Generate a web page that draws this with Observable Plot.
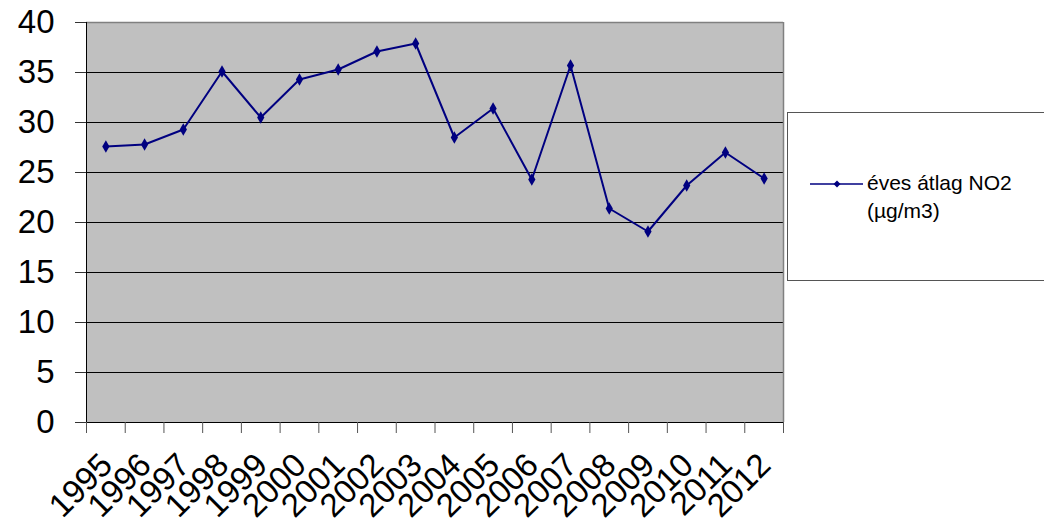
<!DOCTYPE html>
<html>
<head>
<meta charset="utf-8">
<script src="https://cdn.jsdelivr.net/npm/d3@7"></script>
<script src="https://cdn.jsdelivr.net/npm/@observablehq/plot@0.6"></script>
<style>
  html, body { margin: 0; padding: 0; background: #fff; overflow: hidden; }
  #wrap { position: relative; width: 1044px; height: 526px; }
  #legend { position: absolute; left: 787px; top: 112px; width: 280px; height: 169px;
    border: 1px solid #555; box-sizing: border-box; background: #fff;
    font-family: "Liberation Sans", Arial, sans-serif; font-size: 21px; color: #000; }
  #legend svg { position: absolute; left: 22px; top: 66px; }
  #legend .txt { position: absolute; left: 79px; top: 56px; line-height: 28px; }
</style>
</head>
<body>
<div id="wrap">
  <div id="chart"></div>
  <div id="legend">
    <svg width="54" height="10"><line x1="0" y1="5" x2="53" y2="5" stroke="#000080" stroke-width="1.5"/><path d="M27,1.5L30.5,5L27,8.5L23.5,5Z" fill="#000080"/></svg>
    <div class="txt">éves átlag NO2<br>(µg/m3)</div>
  </div>
</div>
<script>
const years = ["1995","1996","1997","1998","1999","2000","2001","2002","2003","2004","2005","2006","2007","2008","2009","2010","2011","2012"];
const no2 = [27.6, 27.8, 29.3, 35.1, 30.5, 34.3, 35.3, 37.1, 37.9, 28.5, 31.4, 24.3, 35.7, 21.4, 19.1, 23.7, 27.0, 24.4];
const yTicks = [0, 5, 10, 15, 20, 25, 30, 35, 40];

const n = years.length;
const data = years.map((y, i) => ({year: y, pos: i + 0.5, value: no2[i]}));
const boundaries = d3.range(0, n + 1);
const font = "'Liberation Sans', Arial, sans-serif";

const chart = Plot.plot({
  width: 1044,
  height: 526,
  marginLeft: 86,
  marginRight: 261,
  marginTop: 22,
  marginBottom: 104,
  style: {fontFamily: font, background: "transparent", overflow: "visible"},
  x: {type: "linear", domain: [0, n], axis: null},
  y: {domain: [0, 40], axis: null},
  marks: [
    Plot.frame({fill: "#c0c0c0", stroke: "none"}),
    Plot.ruleY(yTicks.filter(d => d > 0 && d < 40), {stroke: "#000", strokeWidth: 1}),
    Plot.ruleY([40], {stroke: "#808080", strokeWidth: 1.5}),
    Plot.ruleX([n], {stroke: "#808080", strokeWidth: 1.5}),
    Plot.ruleX([0], {stroke: "#000", strokeWidth: 1}),
    Plot.ruleY([0], {stroke: "#000", strokeWidth: 1}),
    Plot.axisY({ticks: yTicks, tickSize: 11, tickPadding: 21, fontSize: 33, stroke: "#333", color: "#000", tickFormat: d => d, label: null}),
    Plot.axisX({ticks: boundaries, tickSize: 11, tickFormat: () => "", stroke: "#555", label: null}),
    Plot.line(data, {x: "pos", y: "value", stroke: "#000080", strokeWidth: 2}),
    Plot.dot(data, {x: "pos", y: "value", symbol: "diamond", r: 3.8, fill: "#000080", stroke: "none"}),
    Plot.text(data, {x: "pos", y: 0, text: "year", rotate: -45, textAnchor: "end", lineAnchor: "middle", dx: 1, dy: 37, fontSize: 33, fill: "#000"})
  ]
});
document.getElementById("chart").appendChild(chart);
</script>
</body>
</html>
